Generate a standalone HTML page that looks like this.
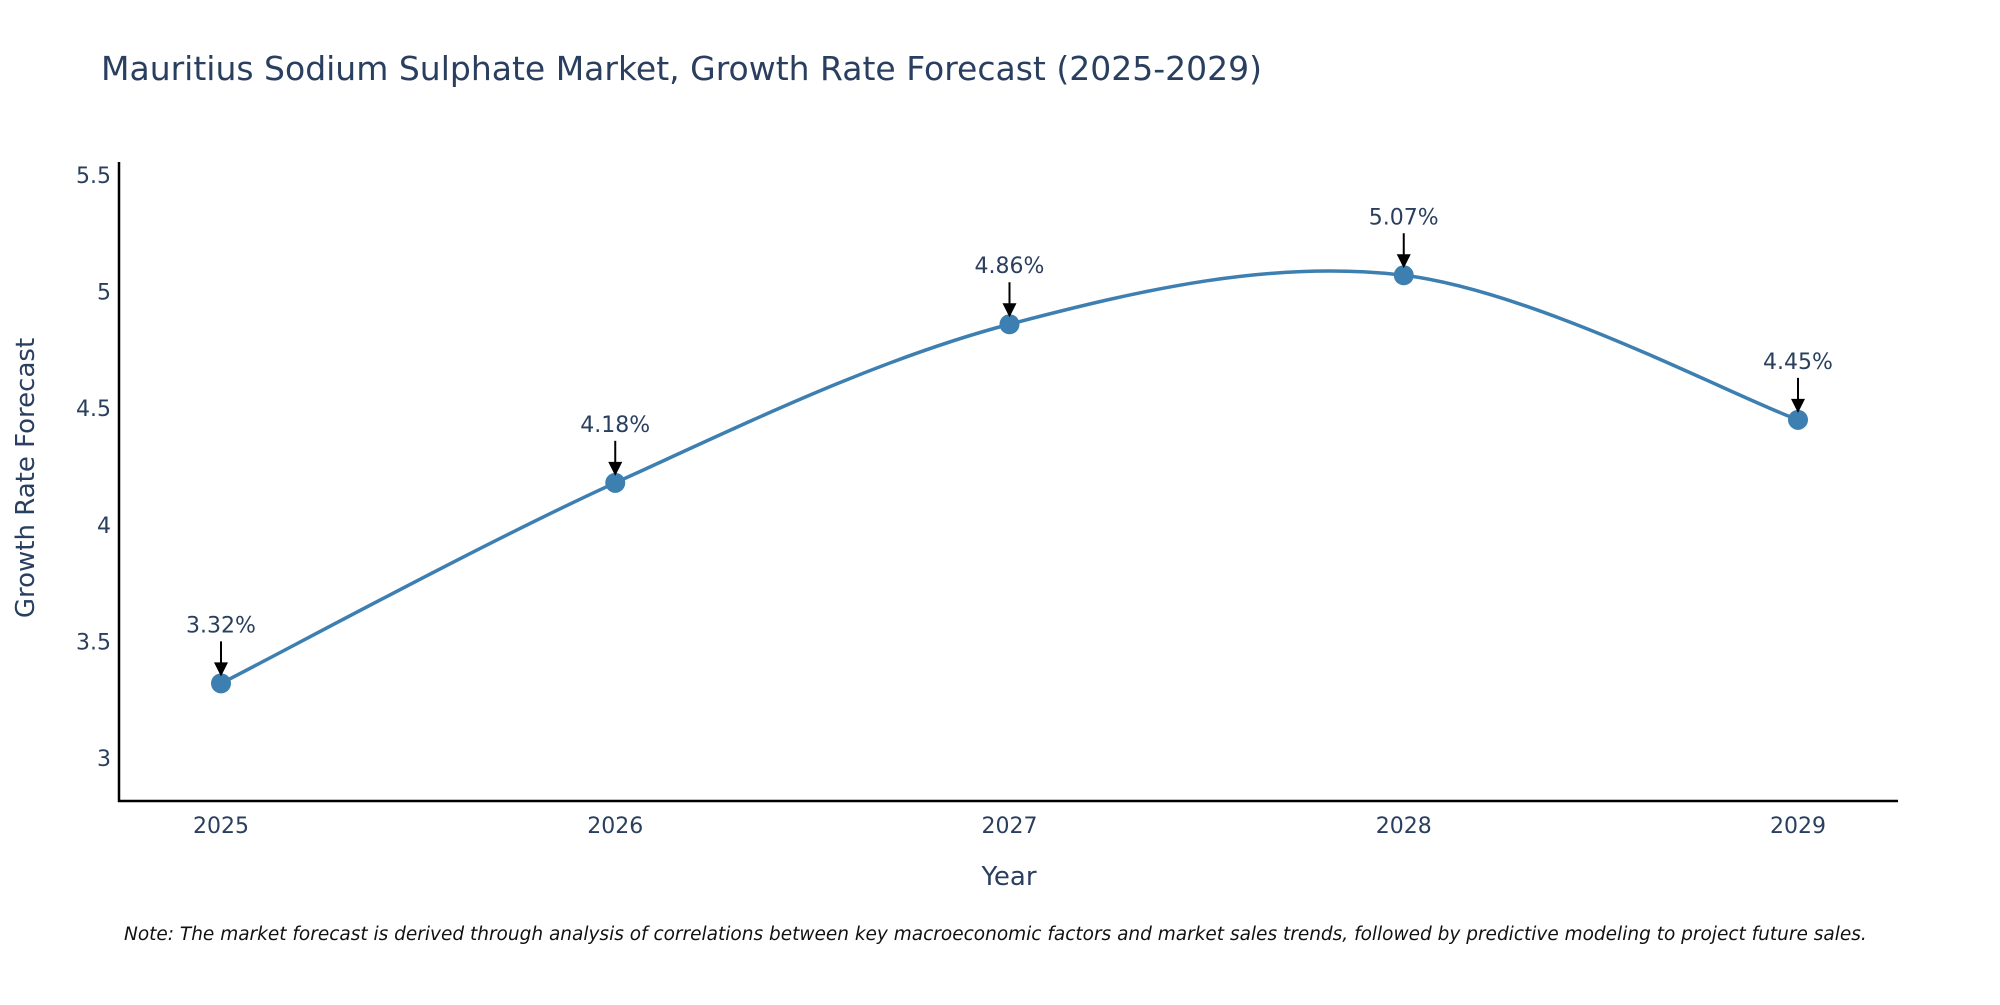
<!DOCTYPE html>
<html><head><meta charset="utf-8"><style>
body{margin:0;background:#fff;}
svg text{font-family:"DejaVu Sans","Liberation Sans",sans-serif;fill:#2a3f5f;}
</style></head><body>
<svg width="2000" height="1000">
<text x="101" y="80" font-size="33">Mauritius Sodium Sulphate Market, Growth Rate Forecast (2025-2029)</text>
<g id="axes"></g>
<g id="marks"></g>
<text x="1009" y="885" font-size="26" text-anchor="middle">Year</text>
<text transform="translate(34,478) rotate(-90)" font-size="26" text-anchor="middle">Growth Rate Forecast</text>
<text x="124" y="940" font-size="18.5" font-style="italic" style="fill:#111">Note: The market forecast is derived through analysis of correlations between key macroeconomic factors and market sales trends, followed by predictive modeling to project future sales.</text>
</svg>
<script>
const years=[2025,2026,2027,2028,2029];
const rates=[3.32,4.18,4.86,5.07,4.45];
const labels=["3.32%","4.18%","4.86%","5.07%","4.45%"];
const yTicks=[3,3.5,4,4.5,5,5.5];
const yTickLabels=["3","3.5","4","4.5","5","5.5"];
const NS="http://www.w3.org/2000/svg";
const xS=v=>221+(v-2025)*(1798-221)/4;
const yS=v=>758-(v-3)*(758-175)/2.5;
function mk(t,a,p){const e=document.createElementNS(NS,t);for(const k in a)e.setAttribute(k,a[k]);p.appendChild(e);return e;}
const ax=document.getElementById('axes'),mg=document.getElementById('marks');
let l=mk('line',{x1:119,y1:162,x2:119,y2:802,stroke:'#000','stroke-width':2.5},ax);


l=mk('line',{x1:118,y1:801,x2:1898,y2:801,stroke:'#000','stroke-width':2.5},ax);


yTicks.forEach((v,i)=>{const t=mk('text',{x:111,y:yS(v)+8,'font-size':22,'text-anchor':'end'},ax);t.textContent=yTickLabels[i];

});
years.forEach(v=>{const t=mk('text',{x:xS(v),y:833,'font-size':22,'text-anchor':'middle'},ax);t.textContent=String(v);

});
const P=years.map((y,i)=>[xS(y),yS(rates[i])]);
let d='M'+P[0][0]+','+P[0][1];
for(let i=0;i<P.length-1;i++){const p0=P[Math.max(0,i-1)],p1=P[i],p2=P[i+1],p3=P[Math.min(P.length-1,i+2)];const k=1/6;
d+=` C${p1[0]+(p2[0]-p0[0])*k},${p1[1]+(p2[1]-p0[1])*k} ${p2[0]-(p3[0]-p1[0])*k},${p2[1]-(p3[1]-p1[1])*k} ${p2[0]},${p2[1]}`;}
const path=mk('path',{d:d,fill:'none',stroke:'#3d7fb0','stroke-width':3.5},mg);


P.forEach((p,i)=>{const c=mk('circle',{cx:p[0],cy:p[1],r:10,fill:'#3d7fb0'},mg);


const a=mk('line',{x1:p[0],y1:p[1]-42,x2:p[0],y2:p[1]-20,stroke:'#000','stroke-width':2},mg);


const h=mk('path',{d:`M${p[0]-7},${p[1]-21} L${p[0]+7},${p[1]-21} L${p[0]},${p[1]-7} Z`,fill:'#000'},mg);


const t=mk('text',{x:p[0],y:p[1]-51,'font-size':22,'text-anchor':'middle'},mg);t.textContent=labels[i];

});
</script>
</body></html>
